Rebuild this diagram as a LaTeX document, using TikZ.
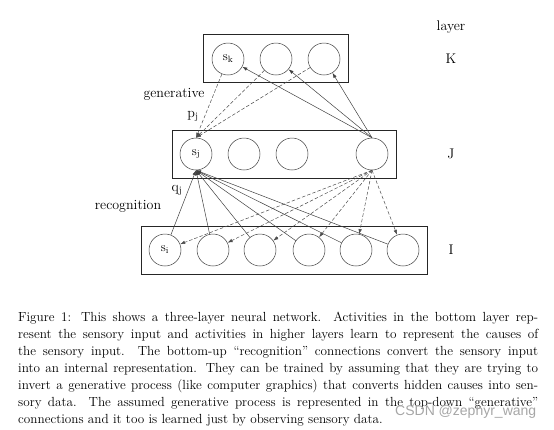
\documentclass[tikz,border=0pt]{standalone}
\usepackage{fontspec}
\newfontfamily\wmfont{Liberation Sans}
\usetikzlibrary{arrows.meta}
\begin{document}
\begin{tikzpicture}[x=1pt,y=-1pt,
  unit/.style={circle,draw=black!75,line width=0.5pt,minimum size=32pt,inner sep=0pt,font=\fontsize{13}{15}\selectfont},
  layerbox/.style={draw=black!85,line width=0.6pt},
  lab/.style={font=\fontsize{14}{16}\selectfont,inner sep=0pt},
  gen/.style={draw=black!70,line width=0.5pt,dashed,dash pattern=on 3.5pt off 2pt,-{Latex[length=5pt,width=3.5pt]}},
  rec/.style={draw=black!75,line width=0.5pt,-{Latex[length=5pt,width=3.5pt]}}]
\useasboundingbox (0,0) rectangle (554,429);
% boxes
\draw[layerbox] (203,34) rectangle (348,82);
\draw[layerbox] (172,130) rectangle (396,178);
\draw[layerbox] (141,226) rectangle (427,274);
% layer K
\node[unit] (k1) at (228,59) {$\mathrm{s}_\mathrm{k}$};
\node[unit] (k2) at (276,59) {};
\node[unit] (k3) at (324,59) {};
% layer J
\node[unit] (j1) at (196,154) {$\mathrm{s}_\mathrm{j}$};
\node[unit] (j2) at (244,154) {};
\node[unit] (j3) at (292,154) {};
\node[unit] (j4) at (372,154) {};
% layer I
\node[unit] (i1) at (165,250) {$\mathrm{s}_\mathrm{i}$};
\node[unit] (i2) at (213,250) {};
\node[unit] (i3) at (260,250) {};
\node[unit] (i4) at (309,250) {};
\node[unit] (i5) at (356,250) {};
\node[unit] (i6) at (403,250) {};
% generative K -> J
\foreach \k in {k1,k2,k3} \draw[gen] (\k) -- (j1.north);
% recognition J -> K
\foreach \k in {k1,k2,k3} \draw[rec] (j4.north) -- (\k);
% recognition I -> J
\foreach \i in {i1,i2,i3,i4,i5,i6} \draw[rec] (\i) -- (j1.south);
% generative J -> I
\foreach \i in {i1,i2,i3,i4,i5,i6} \draw[gen] (j4.south) -- (\i);
% labels
\node[lab] (tlayer) at (451,27) {layer};
\node[lab] (tK) at (451,59) {K};
\node[lab] (tJ) at (451,154) {J};
\node[lab] (tI) at (451,250) {I};
\node[lab] (tgen) at (174,94) {generative};
\node[lab] (tp) at (193,116) {$\mathrm{p}_\mathrm{j}$};
\node[lab] (tq) at (177,190) {$\mathrm{q}_\mathrm{j}$};
\node[lab] (trec) at (128,206) {recognition};
% caption
\node[anchor=north west,inner sep=0pt,text width=520pt,align=justify,font=\fontsize{13.2}{17}\selectfont] (cap) at (18,312) {Figure 1: This shows a three-layer neural network. Activities in the bottom layer rep-\linebreak resent the sensory input and activities in higher layers learn to represent the causes of\linebreak the sensory input. The bottom-up ``recognition'' connections convert the sensory input\linebreak into an internal representation. They can be trained by assuming that they are trying to\linebreak invert a generative process (like computer graphics) that converts hidden causes into sen-\linebreak sory data. The assumed generative process is represented in the top-down ``generative''\linebreak connections and it too is learned just by observing sensory data.};
\node[anchor=west,inner sep=0pt,text=black!35,font=\wmfont\fontsize{14}{16}\selectfont] (wm) at (395,412) {CSDN @zephyr\_wang};
\end{tikzpicture}
\end{document}
